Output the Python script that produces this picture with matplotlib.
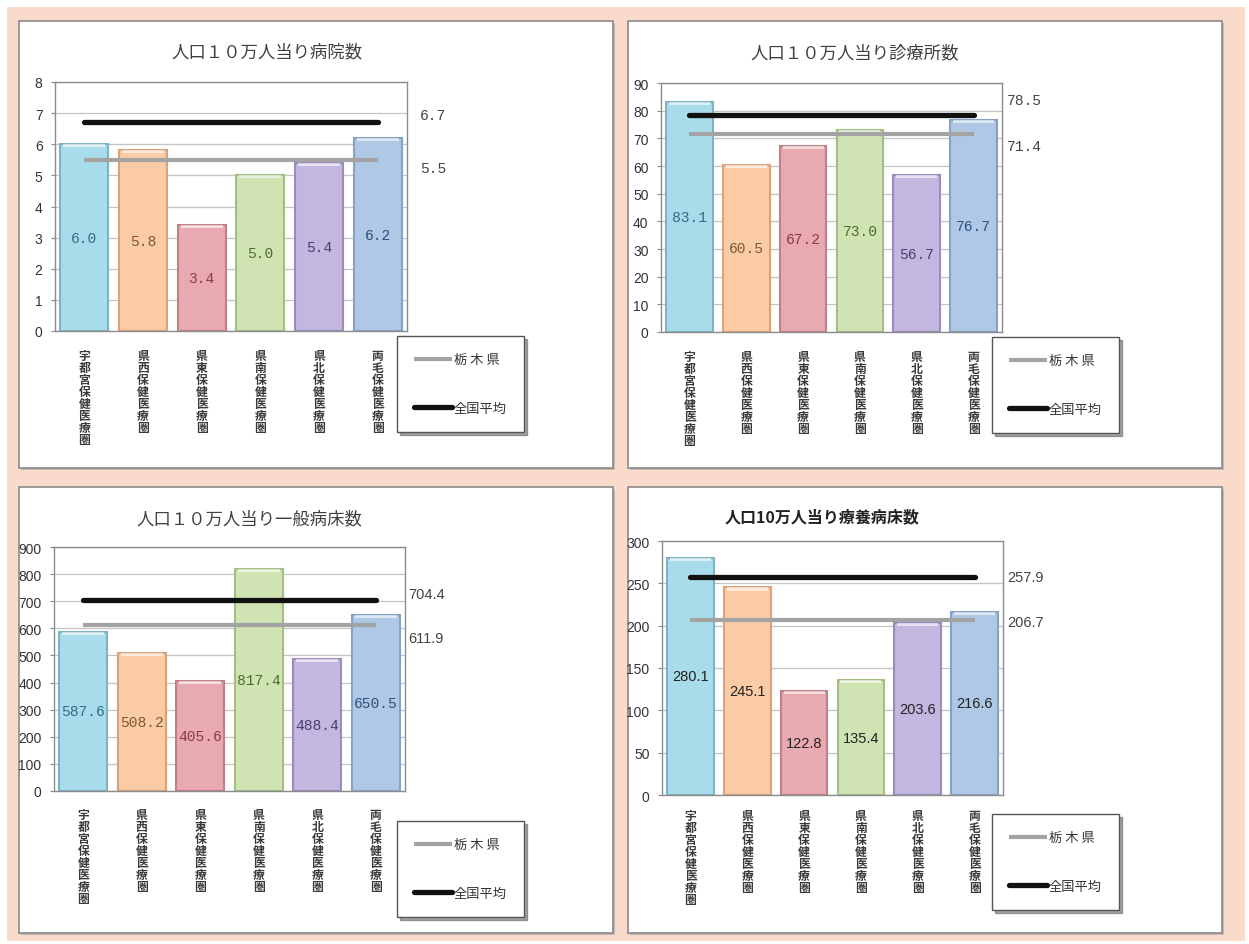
import matplotlib
matplotlib.use('Agg')
import numpy as np
import matplotlib.pyplot as plt
from matplotlib.patches import Rectangle

W, H = 1249, 945
JP = ['Noto Sans CJK JP', 'DejaVu Sans']
NARROW = ['Liberation Sans', 'DejaVu Sans']
MONO = ['Liberation Mono', 'DejaVu Sans Mono']
plt.rcParams['font.family'] = JP

# 二次保健医療圏
regions = ['宇都宮保健医療圏', '県西保健医療圏', '県東保健医療圏',
           '県南保健医療圏', '県北保健医療圏', '両毛保健医療圏']

hospitals = [6.0, 5.8, 3.4, 5.0, 5.4, 6.2]
hospitals_pref, hospitals_nat = 5.5, 6.7

clinics = [83.1, 60.5, 67.2, 73.0, 56.7, 76.7]
clinics_pref, clinics_nat = 71.4, 78.5

general_beds = [587.6, 508.2, 405.6, 817.4, 488.4, 650.5]
general_pref, general_nat = 611.9, 704.4

ltc_beds = [280.1, 245.1, 122.8, 135.4, 203.6, 216.6]
ltc_pref, ltc_nat = 206.7, 257.9

titles = ['人口１０万人当り病院数', '人口１０万人当り診療所数',
          '人口１０万人当り一般病床数', '人口10万人当り療養病床数']
legend_labels = ['栃 木 県', '全国平均']

bar_colors = ['#A9DCEA', '#FBCBA6', '#E8AAB0', '#CFE3B3', '#C3B7E0', '#AEC8E6']
edge_colors = ['#7DB3C4', '#D9A27A', '#C17F87', '#A3BE85', '#9A8CBE', '#84A2C6']
text_colors = ['#2F6E80', '#7A5A33', '#8B3A45', '#4F6A2F', '#4B3D73', '#2D4F7C']


def fx(x):
    return x / W


def fy(y):
    return 1 - y / H


fig = plt.figure(figsize=(W / 100, H / 100), dpi=100)
fig.patch.set_facecolor('white')
fig.add_artist(Rectangle((fx(7), fy(942)), (1245 - 7) / W, (942 - 8) / H,
                         transform=fig.transFigure, facecolor='#FADACB',
                         edgecolor='none', zorder=0))


def card(x0, y0, x1, y1):
    fig.add_artist(Rectangle((fx(x0 + 2), fy(y1 + 2)), (x1 - x0) / W, (y1 - y0) / H,
                             transform=fig.transFigure, facecolor='#C4B8B1',
                             edgecolor='none', zorder=0.5))
    fig.add_artist(Rectangle((fx(x0), fy(y1)), (x1 - x0) / W, (y1 - y0) / H,
                             transform=fig.transFigure, facecolor='white',
                             edgecolor='#8A8A8A', lw=1.2, zorder=0.6))


def draw(box, values, pref, nat, ticks, title, title_xy, legend_xy, label_dx,
         label_dy, xpad, bold_title=False):
    x0, y0, x1, y1 = box
    ax = fig.add_axes([fx(x0), fy(y1), (x1 - x0) / W, (y1 - y0) / H], zorder=2)
    ax.set_facecolor('white')
    xs = np.arange(len(values))
    vals = np.array(values)
    ax.bar(xs, vals, width=0.82, color=bar_colors, edgecolor=edge_colors,
           linewidth=1.5, zorder=2)
    cap = ticks[-1] * 0.012
    ax.bar(xs, cap, bottom=vals - cap, width=0.72, color='white', alpha=0.6,
           linewidth=0, zorder=2.1)

    for xi, v, c in zip(xs, vals, text_colors):
        if bold_title:
            ax.text(xi, v / 2, f'{v:.1f}', ha='center', va='center', color='#222222',
                    family=NARROW, size=10.5, zorder=3)
        else:
            ax.text(xi, v / 2, f'{v:.1f}', ha='center', va='center', color=c,
                    family=MONO, size=10.5, zorder=3)

    l_pref, = ax.plot([xs[0], xs[-1]], [pref, pref], color='#A3A3A3', lw=3.0,
                      solid_capstyle='butt', zorder=4)
    l_nat, = ax.plot([xs[0], xs[-1]], [nat, nat], color='#111111', lw=3.8,
                     solid_capstyle='round', zorder=5)

    rfont = MONO if not bold_title and ticks[-1] < 100 else NARROW
    for v, dy in zip([nat, pref], label_dy):
        ax.annotate(f'{v:.1f}', xy=(1, v), xycoords=('axes fraction', 'data'),
                    xytext=(label_dx, dy), textcoords='offset pixels',
                    ha='left', va='center', color='#444444', family=rfont,
                    size=10.5, annotation_clip=False)

    ax.set_xlim(-0.5, len(values) - 0.5)
    ax.set_ylim(ticks[0], ticks[-1])
    ax.set_yticks(ticks)
    ax.set_xticks(xs)
    ax.set_xticklabels(['\n'.join(r) for r in regions], fontsize=8.5,
                       fontweight='bold', color='#3A3A3A', linespacing=0.9,
                       va='top')
    ax.tick_params(axis='x', length=0, pad=xpad)
    ax.tick_params(axis='y', length=3, color='#888888', pad=6, labelsize=10,
                   labelcolor='#333333')
    for lab in ax.get_yticklabels():
        lab.set_family(NARROW)
    ax.yaxis.grid(True, color='#C4C4C4', lw=0.9)
    ax.set_axisbelow(True)
    for s in ax.spines.values():
        s.set_color('#8C8C8C')
        s.set_linewidth(1.0)

    fig.text(fx(title_xy[0]), fy(title_xy[1]), title, ha='center', va='center',
             size=11.5 if bold_title else 12.5,
             fontweight='bold' if bold_title else 'normal',
             color='#222222' if bold_title else '#404040')

    leg = ax.legend([l_pref, l_nat], legend_labels, loc='upper left',
                    bbox_to_anchor=(fx(legend_xy[0]), fy(legend_xy[1])),
                    bbox_transform=fig.transFigure, fancybox=False, shadow=True,
                    handlelength=2.9, handletextpad=0.1, labelspacing=2.7,
                    borderpad=1.3, borderaxespad=0,
                    prop={'family': JP, 'size': 9.5})
    leg.get_frame().set_edgecolor('#555555')
    leg.get_frame().set_linewidth(1.0)
    for t in leg.get_texts():
        t.set_color('#333333')
    return ax


card(19, 22, 613, 469)
card(628, 22, 1222, 469)
card(19, 488, 613, 934)
card(628, 488, 1222, 934)

draw((55, 83, 407, 332), hospitals, hospitals_pref, hospitals_nat,
     np.arange(0, 9, 1), titles[0], (267, 52), (397, 337), 13, (7, -8), 13)
draw((661, 84, 1002, 333), clinics, clinics_pref, clinics_nat,
     np.arange(0, 91, 10), titles[1], (855, 53), (992, 338), 5, (15, -12), 13)
draw((54, 548, 405, 792), general_beds, general_pref, general_nat,
     np.arange(0, 901, 100), titles[2], (249, 519), (397, 822), 3, (6, -13), 12)
draw((662, 542, 1003, 796), ltc_beds, ltc_pref, ltc_nat,
     np.arange(0, 301, 50), titles[3], (822, 517), (992, 815), 4, (0, -2), 10,
     bold_title=True)

fig.savefig('out.png', dpi=100)
